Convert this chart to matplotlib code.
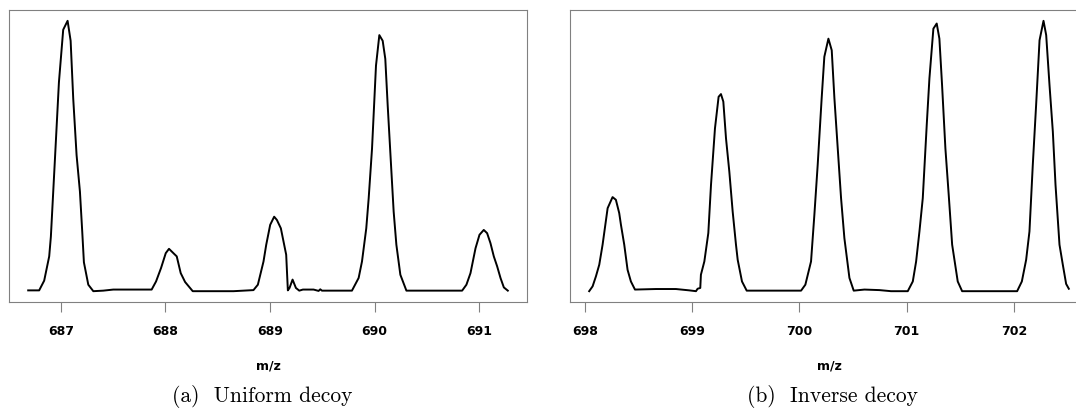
#!/usr/bin/env python3
# two mass spectra side by side, R-style axes, LaTeX-like captions

import matplotlib
matplotlib.use('Agg')
import matplotlib.pyplot as plt


# (a) uniform decoy: m/z and relative intensity
uni_mz = [686.687, 686.792, 686.840, 686.888, 686.904, 686.943, 686.981, 687.022, 687.064,
          687.093, 687.118, 687.150, 687.182, 687.204, 687.220, 687.262, 687.310,
          687.405, 687.501, 687.868,
          687.910, 687.958, 688.003, 688.034, 688.076, 688.108, 688.146, 688.188, 688.261,
          688.651, 688.842,
          688.884, 688.938, 688.964, 689.002, 689.040, 689.066, 689.104, 689.155, 689.171,
          689.187, 689.216, 689.248, 689.280, 689.315, 689.417, 689.465, 689.481, 689.497,
          689.784,
          689.848, 689.880, 689.921, 689.944, 689.976, 690.014, 690.046, 690.078, 690.103,
          690.126, 690.158, 690.183, 690.209, 690.247, 690.305,
          690.838,
          690.879, 690.918, 690.966, 691.004, 691.045, 691.077, 691.109, 691.141, 691.173,
          691.205, 691.237, 691.275]
uni_int = [0.1, 0.1, 3.7, 12.7, 20.0, 48.8, 77.2, 96.7, 100.0,
           92.6, 71.1, 50.2, 36.7, 21.9, 10.5, 2.2, -0.2,
           0.0, 0.4, 0.4,
           3.4, 8.4, 13.9, 15.5, 13.9, 12.7, 6.5, 3.2, -0.2,
           -0.2, 0.2,
           2.2, 10.8, 17.0, 24.4, 27.4, 26.2, 23.1, 13.3, 0.1,
           1.0, 4.1, 1.0, 0.0, 0.4, 0.4, -0.1, 0.5, 0.0,
           0.0,
           4.7, 10.8, 23.1, 34.2, 52.6, 83.4, 94.7, 92.6, 85.9,
           68.6, 46.5, 29.3, 17.0, 5.9, 0.0,
           0.0,
           2.2, 6.5, 15.7, 20.7, 22.5, 21.3, 17.6, 12.7, 9.0,
           4.7, 1.2, 0.0]

# (b) inverse decoy
inv_mz = [698.040, 698.072, 698.103, 698.134, 698.165, 698.212, 698.258, 698.289, 698.320,
          698.336, 698.367, 698.398, 698.429, 698.467,
          698.663, 698.849, 698.974, 699.036, 699.051, 699.076, 699.082, 699.114,
          699.151, 699.176, 699.213, 699.247, 699.269, 699.291, 699.316, 699.347, 699.378,
          699.409, 699.425, 699.465, 699.509,
          700.016,
          700.056, 700.109, 700.140, 700.171, 700.208, 700.233, 700.271, 700.302, 700.327,
          700.358, 700.389, 700.420, 700.467, 700.507,
          700.607, 700.747, 700.855, 701.011,
          701.058, 701.089, 701.120, 701.151, 701.188, 701.213, 701.250, 701.281, 701.306,
          701.331, 701.362, 701.393, 701.425, 701.477, 701.518,
          702.031,
          702.075, 702.115, 702.146, 702.177, 702.208, 702.240, 702.277, 702.302, 702.333,
          702.364, 702.389, 702.426, 702.457, 702.488, 702.513]
inv_int = [-0.2, 1.6, 5.3, 9.6, 17.0, 30.5, 34.6, 33.6, 28.7,
           24.4, 17.0, 7.7, 3.4, 0.4,
           0.6, 0.6, 0.1, -0.2, 0.7, 1.0, 5.9, 10.8,
           21.3, 39.1, 60.0, 71.7, 72.7, 69.9, 56.3, 44.0, 29.3,
           17.0, 11.4, 3.4, 0.0,
           0.0,
           2.2, 10.8, 28.0, 46.5, 71.1, 86.5, 93.2, 88.9, 71.1,
           52.6, 34.2, 19.4, 4.7, 0.0,
           0.4, 0.2, -0.2, -0.2,
           3.4, 10.8, 21.9, 34.2, 61.3, 78.5, 96.9, 98.8, 93.2,
           76.0, 52.6, 35.4, 17.0, 3.4, -0.2,
           -0.2,
           3.4, 11.4, 21.9, 46.5, 68.6, 92.6, 99.8, 94.5, 76.0,
           58.8, 39.1, 17.0, 9.6, 2.5, 0.7]

uni_ticks = [687, 688, 689, 690, 691]
inv_ticks = [698, 699, 700, 701, 702]
captions = ['(a)  Uniform decoy', '(b)  Inverse decoy']

W, H = 1076, 414


def draw_panel(ax, mz, inten, ticks):
    ax.plot(mz, inten, color='black', linewidth=1.4)
    ax.margins(x=0.04, y=0.04)
    ax.set_xticks(ticks)
    ax.set_xticklabels([str(t) for t in ticks], fontsize=9, fontweight='bold',
                       family='DejaVu Sans')
    ax.set_yticks([])
    ax.tick_params(axis='x', length=7, width=0.8, color='#808080', pad=9)
    for s in ax.spines.values():
        s.set_color('#808080')
        s.set_linewidth(0.8)
    ax.set_xlabel('m/z', fontsize=9, fontweight='bold', labelpad=15)


def main(out='out.png'):
    fig = plt.figure(figsize=(W / 100, H / 100), dpi=100)
    bottom = 1 - 303 / H
    height = 292 / H
    ax1 = fig.add_axes([9 / W, bottom, 518 / W, height])
    ax2 = fig.add_axes([570 / W, bottom, 518 / W, height])
    draw_panel(ax1, uni_mz, uni_int, uni_ticks)
    draw_panel(ax2, inv_mz, inv_int, inv_ticks)

    for xc, cap in zip([262 / W, 832 / W], captions):
        fig.text(xc, 1 - 397 / H, cap, ha='center', va='center',
                 fontsize=15.5, family='cmr10')

    fig.savefig(out, dpi=100)
    print('saved')


if __name__ == '__main__':
    main()
